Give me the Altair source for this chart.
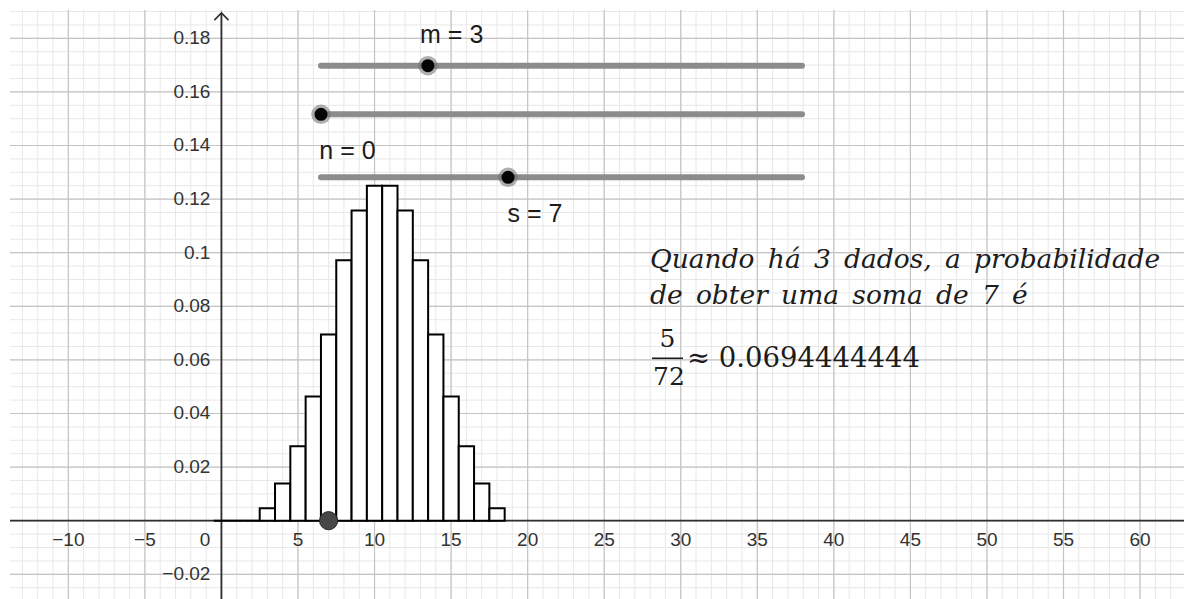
import altair as alt
import numpy as np
import pandas as pd

# ---------------------------------------------------------------- data
# probability of each total when three dice are thrown (totals 0..18)
dice_sums = [0, 1, 2, 3, 4, 5, 6, 7, 8, 9, 10, 11, 12, 13, 14, 15, 16, 17, 18]
sum_probs = [0, 0, 0, 0.00463, 0.01389, 0.02778, 0.04630, 0.06944, 0.09722,
             0.11574, 0.125, 0.125, 0.11574, 0.09722, 0.06944, 0.04630,
             0.02778, 0.01389, 0.00463]

# sliders: name, current value, range
slider_names = ["m", "n", "s"]
slider_values = [3, 0, 7]
slider_mins = [1, 0, 0]
slider_maxs = [10, 10, 18]

# axis tick labels
x_tick_values = [-10, -5, 5, 10, 15, 20, 25, 30, 35, 40, 45, 50, 55, 60]
x_tick_labels = ["−10", "−5", "5", "10", "15", "20", "25", "30", "35", "40",
                 "45", "50", "55", "60"]
y_tick_values = [-0.02, 0.02, 0.04, 0.06, 0.08, 0.1, 0.12, 0.14, 0.16, 0.18]
y_tick_labels = ["−0.02", "0.02", "0.04", "0.06", "0.08", "0.1", "0.12",
                 "0.14", "0.16", "0.18"]
origin_label = "0"

# explanatory text (math-style wide spacing between words)
GAP = "\u2002"
text_lines = [GAP.join(["Quando", "há", "3", "dados,", "a", "probabilidade"]),
              GAP.join(["de", "obter", "uma", "soma", "de", "7", "é"])]
frac_num = "5"
frac_den = "72"
approx_text = "≈ 0.0694444444"

# ---------------------------------------------------------------- layout
W, H = 1174, 589
X_SCALE = alt.Scale(domain=[-13.81, 62.87], nice=False, zero=False)
Y_SCALE = alt.Scale(domain=[-0.02922, 0.19056], nice=False, zero=False)

MINOR_GRID = "#e8e8e8"
MAJOR_GRID = "#c4c4c4"
AXIS_COLOR = "#2e2e2e"
TEXT_COLOR = "#1c1c1c"

TRACK_X0, TRACK_X1 = 311, 792
TRACK_Y = {"m": 55.7, "n": 104.3, "s": 167.3}
LABEL_POS = {"m": (441.7, 25), "n": (337.5, 141), "s": (525, 204)}

SANS = "Liberation Sans"
SERIF = "DejaVu Serif"


def frame(values, **cols):
    d = {"v": values}
    d.update(cols)
    return pd.DataFrame(d)


# ---------------------------------------------------------------- grid
minor_x = np.arange(-13, 63)
minor_y = np.round(np.arange(-0.025, 0.1901, 0.005), 4)
major_x = np.arange(-10, 61, 5)
major_y = np.round(np.arange(-0.02, 0.181, 0.02), 3)


def vlines(vals, color, width):
    return alt.Chart(frame(vals)).mark_rule(color=color, strokeWidth=width).encode(
        x=alt.X("v:Q", scale=X_SCALE, axis=None))


def hlines(vals, color, width):
    return alt.Chart(frame(vals)).mark_rule(color=color, strokeWidth=width).encode(
        y=alt.Y("v:Q", scale=Y_SCALE, axis=None))


grid = [
    vlines(minor_x, MINOR_GRID, 1),
    hlines(minor_y, MINOR_GRID, 1),
    vlines(major_x, MAJOR_GRID, 1.2),
    hlines(major_y, MAJOR_GRID, 1.2),
]

# ---------------------------------------------------------------- axes
x_axis = alt.Chart(frame([0])).mark_rule(color=AXIS_COLOR, strokeWidth=1.8).encode(
    y=alt.Y("v:Q", scale=Y_SCALE, axis=None))
y_axis = alt.Chart(frame([0])).mark_rule(color=AXIS_COLOR, strokeWidth=1.8).encode(
    x=alt.X("v:Q", scale=X_SCALE, axis=None), y=alt.value(3), y2=alt.value(H))
y_arrow = alt.Chart(frame([0])).mark_point(
    shape="M-1,1L0,0L1,1", filled=False, stroke=AXIS_COLOR, strokeWidth=1.6,
    size=200, opacity=1).encode(
    x=alt.X("v:Q", scale=X_SCALE, axis=None), y=alt.value(3))

x_ticks = alt.Chart(frame(x_tick_values, label=x_tick_labels, zero=0)).mark_text(
    font=SANS, fontSize=19, color="#333333", align="center", baseline="middle",
    dy=19).encode(
    x=alt.X("v:Q", scale=X_SCALE, axis=None),
    y=alt.Y("zero:Q", scale=Y_SCALE, axis=None),
    text="label:N")
y_ticks = alt.Chart(frame(y_tick_values, label=y_tick_labels, zero=0)).mark_text(
    font=SANS, fontSize=19, color="#333333", align="right", baseline="middle",
    dx=-11).encode(
    x=alt.X("zero:Q", scale=X_SCALE, axis=None),
    y=alt.Y("v:Q", scale=Y_SCALE, axis=None),
    text="label:N")
origin = alt.Chart(frame([0], label=[origin_label])).mark_text(
    font=SANS, fontSize=19, color="#333333", align="right", baseline="middle",
    dx=-11, dy=19).encode(
    x=alt.X("v:Q", scale=X_SCALE, axis=None),
    y=alt.Y("v:Q", scale=Y_SCALE, axis=None),
    text="label:N")

# ---------------------------------------------------------------- histogram
hist_df = pd.DataFrame({"total": dice_sums, "p": sum_probs})
bars = alt.Chart(hist_df).transform_calculate(
    lo="datum.total - 0.5", hi="datum.total + 0.5", base="0").mark_rect(
    fill="white", stroke="black", strokeWidth=2).encode(
    x=alt.X("lo:Q", scale=X_SCALE, axis=None), x2="hi:Q",
    y=alt.Y("p:Q", scale=Y_SCALE, axis=None), y2="base:Q")

# ---------------------------------------------------------------- sliders
slider_df = pd.DataFrame({"name": slider_names, "value": slider_values,
                          "lo": slider_mins, "hi": slider_maxs})

# point on the x axis at the chosen total s
s_point = alt.Chart(slider_df).transform_filter("datum.name == 's'").transform_calculate(
    base="0").mark_point(filled=True, fill="#474747", stroke="#2a2a2a",
                         strokeWidth=1, size=330, opacity=1).encode(
    x=alt.X("value:Q", scale=X_SCALE, axis=None),
    y=alt.Y("base:Q", scale=Y_SCALE, axis=None))

slider_layers = []
knob_scale = alt.Scale(domain=[0, 1], range=[TRACK_X0, TRACK_X1], nice=False, zero=False)
for name in slider_names:
    one = alt.Chart(slider_df).transform_filter(f"datum.name == '{name}'").transform_calculate(
        frac="(datum.value - datum.lo) / (datum.hi - datum.lo)",
        label="datum.name + ' = ' + datum.value")
    ty = TRACK_Y[name]
    track = one.mark_rule(color="#8c8c8c", strokeWidth=6, strokeCap="round").encode(
        x=alt.value(TRACK_X0), x2=alt.value(TRACK_X1), y=alt.value(ty))
    halo = one.mark_point(filled=True, fill="#6e6e6e", opacity=0.55, size=380).encode(
        x=alt.X("frac:Q", scale=knob_scale, axis=None), y=alt.value(ty))
    knob = one.mark_point(filled=True, fill="#050505", opacity=1, size=170).encode(
        x=alt.X("frac:Q", scale=knob_scale, axis=None), y=alt.value(ty))
    lx, ly = LABEL_POS[name]
    label = one.mark_text(font=SANS, fontSize=25, color=TEXT_COLOR, align="center",
                          baseline="middle").encode(
        x=alt.value(lx), y=alt.value(ly), text="label:N")
    slider_layers += [track, halo, knob, label]

# ---------------------------------------------------------------- text block
text_df = pd.DataFrame({"line": text_lines, "row": list(range(len(text_lines)))})
sentence = alt.Chart(text_df).mark_text(
    font=SERIF, fontStyle="italic", fontSize=26.5, color=TEXT_COLOR, align="left",
    baseline="alphabetic").encode(
    x=alt.value(640),
    y=alt.Y("row:Q", scale=alt.Scale(domain=[0, 1], range=[258, 294], nice=False, zero=False),
            axis=None),
    text="line:N")

frac_df = pd.DataFrame({"num": [frac_num], "den": [frac_den], "approx": [approx_text]})
num = alt.Chart(frac_df).mark_text(font=SERIF, fontSize=25, color=TEXT_COLOR,
                                   align="center", baseline="middle").encode(
    x=alt.value(657.5), y=alt.value(329), text="num:N")
bar_line = alt.Chart(frac_df).mark_rule(color=TEXT_COLOR, strokeWidth=1.6).encode(
    x=alt.value(642), x2=alt.value(673), y=alt.value(348.3))
den = alt.Chart(frac_df).mark_text(font=SERIF, fontSize=25, color=TEXT_COLOR,
                                   align="center", baseline="middle").encode(
    x=alt.value(659), y=alt.value(367), text="den:N")
approx = alt.Chart(frac_df).mark_text(font=SERIF, fontSize=27.5, color=TEXT_COLOR,
                                      align="left", baseline="alphabetic").encode(
    x=alt.value(677), y=alt.value(357), text="approx:N")

# ---------------------------------------------------------------- assemble
chart = alt.layer(
    *grid, x_axis, y_axis, y_arrow, bars, x_ticks, y_ticks, origin,
    *slider_layers, s_point, sentence, num, bar_line, den, approx,
).resolve_scale(x="independent", y="independent").properties(
    width=W, height=H,
    padding={"left": 10, "top": 10, "right": 0, "bottom": 0},
    autosize=alt.AutoSizeParams(type="none"),
    background="white",
).configure_view(stroke="transparent")

chart.save("out.html", embed_options={"renderer": "svg", "actions": False})
